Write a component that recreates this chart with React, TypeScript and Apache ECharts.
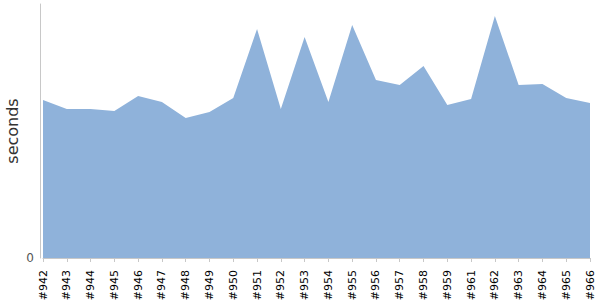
import React, { useEffect, useRef } from "react";
import * as echarts from "echarts";

const categories = ["#942","#943","#944","#945","#946","#947","#948","#949","#950","#951","#952","#953","#954","#955","#956","#957","#958","#959","#961","#962","#963","#964","#965","#966"];
const seconds = [1.58,1.49,1.49,1.47,1.62,1.56,1.40,1.46,1.60,2.29,1.49,2.21,1.56,2.33,1.78,1.73,1.92,1.53,1.59,2.42,1.73,1.74,1.60,1.55];

export default function App() {
  const ref = useRef<HTMLDivElement>(null);
  useEffect(() => {
    const chart = echarts.init(ref.current!, null, { renderer: "svg" });
    chart.setOption({
      animation: false,
      grid: { left: 43, right: 10, top: 4, bottom: 42, containLabel: false, outerBoundsMode: "none" },
      xAxis: {
        type: "category",
        data: categories,
        boundaryGap: false,
        offset: 4,
        axisLine: { show: true, lineStyle: { color: "#c8c8c8" } },
        axisTick: { show: true, length: 4, lineStyle: { color: "#c8c8c8" } },
        axisLabel: { rotate: 90, fontSize: 11, color: "#000", fontFamily: "DejaVu Sans", margin: 8, interval: 0 },
      },
      yAxis: {
        type: "value",
        min: 0,
        max: 2.54,
        interval: 2.54,
        offset: 3,
        name: "seconds",
        nameLocation: "middle",
        nameGap: 20,
        nameMoveOverlap: false,
        nameTextStyle: { fontSize: 16, color: "#333", fontFamily: "DejaVu Sans" },
        splitLine: { show: false },
        axisLine: { show: true, lineStyle: { color: "#c8c8c8" } },
        axisTick: { show: false },
        axisLabel: {
          fontSize: 12,
          color: "#555",
          fontFamily: "DejaVu Sans",
          margin: 6,
          formatter: (v: number) => (v === 0 ? "0" : ""),
        },
      },
      series: [
        {
          type: "line",
          data: seconds,
          symbol: "none",
          lineStyle: { width: 0 },
          areaStyle: { color: "#8fb2da", opacity: 1 },
        },
      ],
    });
    return () => chart.dispose();
  }, []);
  return <div ref={ref} style={{ width: 600, height: 300, position: "absolute", left: 0, top: 0 }} />;
}
